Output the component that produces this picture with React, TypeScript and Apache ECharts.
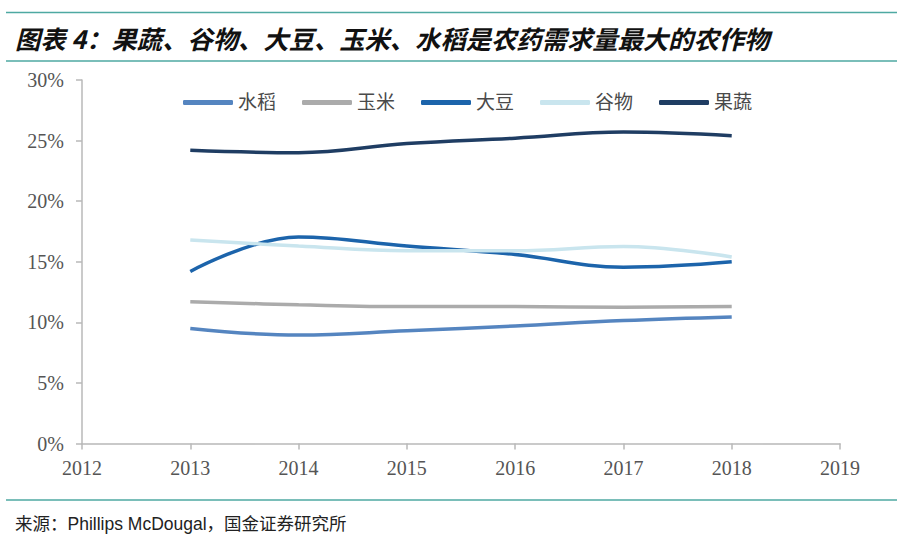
import React, { useEffect, useRef } from "react";
import * as echarts from "echarts";

const years = [2013, 2014, 2015, 2016, 2017, 2018];
const seriesNames = ["水稻", "玉米", "大豆", "谷物", "果蔬"];
const rice = [9.5, 8.95, 9.3, 9.7, 10.15, 10.45];
const corn = [11.7, 11.45, 11.3, 11.3, 11.25, 11.3];
const soybean = [14.2, 17.05, 16.3, 15.6, 14.55, 15.0];
const cereal = [16.8, 16.3, 15.9, 15.9, 16.25, 15.4];
const fruitVeg = [24.2, 24.0, 24.75, 25.2, 25.7, 25.4];
const colors = ["#5585c0", "#ababab", "#1c64ab", "#c9e5ee", "#1f3d63"];
const yTicks = [0, 5, 10, 15, 20, 25, 30];
const xTicks = [2012, 2013, 2014, 2015, 2016, 2017, 2018, 2019];

const titleText = "图表 4：果蔬、谷物、大豆、玉米、水稻是农药需求量最大的农作物";
const sourceText = "来源：Phillips McDougal，国金证券研究所";

export default function App() {
  const ref = useRef<HTMLDivElement>(null);
  useEffect(() => {
    if (!ref.current) return;
    const chart = echarts.init(ref.current, null, { renderer: "svg" });
    const data = [rice, corn, soybean, cereal, fruitVeg];
    const serif = "'Liberation Serif', 'Times New Roman', 'Noto Sans CJK SC', serif";
    chart.setOption({
      animation: false,
      backgroundColor: "#ffffff",
      title: [
        {
          text: titleText,
          left: 10,
          top: 20,
          textStyle: {
            fontFamily: "'Noto Sans CJK SC', sans-serif",
            fontSize: 25.3,
            fontWeight: "bold",
            fontStyle: "italic",
            color: "#111111",
          },
        },
        {
          text: sourceText,
          left: 10,
          top: 510,
          textStyle: {
            fontFamily: "'Liberation Sans', Arial, 'Noto Sans CJK SC', sans-serif",
            fontSize: 17.5,
            fontWeight: "normal",
            color: "#222222",
          },
        },
      ],
      graphic: [
        { type: "line", shape: { x1: 6, y1: 12.5, x2: 897, y2: 12.5 }, style: { stroke: "#4ea9a2", lineWidth: 1.5 } },
        { type: "line", shape: { x1: 6, y1: 61, x2: 897, y2: 61 }, style: { stroke: "#4ea9a2", lineWidth: 1.5 } },
        { type: "line", shape: { x1: 6, y1: 500, x2: 897, y2: 500 }, style: { stroke: "#4ea9a2", lineWidth: 1.5 } },
      ],
      legend: {
        data: seriesNames,
        top: 88,
        left: 178,
        itemWidth: 50,
        itemHeight: 5,
        itemGap: 26,
        icon: "roundRect",
        textStyle: { fontFamily: serif, fontSize: 19, color: "#4a4a4a" },
      },
      grid: { left: 82, right: 57, top: 80, bottom: 96.5, containLabel: false },
      xAxis: {
        type: "value",
        min: xTicks[0],
        max: xTicks[xTicks.length - 1],
        interval: 1,
        splitLine: { show: false },
        axisLine: { show: true, lineStyle: { color: "#b8b8b8", width: 1.5 } },
        axisTick: { show: true, length: 6, lineStyle: { color: "#b8b8b8", width: 1.5 } },
        axisLabel: {
          fontFamily: serif,
          fontSize: 20,
          color: "#555555",
          margin: 14,
          formatter: (v: number) => String(v),
        },
      },
      yAxis: {
        type: "value",
        min: yTicks[0],
        max: yTicks[yTicks.length - 1],
        interval: 5,
        splitLine: { show: false },
        axisLine: { show: true, lineStyle: { color: "#b8b8b8", width: 1.5 } },
        axisTick: { show: true, length: 6, lineStyle: { color: "#b8b8b8", width: 1.5 } },
        axisLabel: { fontFamily: serif, fontSize: 20, color: "#555555", margin: 18, formatter: "{value}%" },
      },
      series: seriesNames.map((name, i) => ({
        name,
        type: "line",
        smooth: 0.4,
        showSymbol: false,
        symbol: "none",
        data: years.map((y, j) => [y, data[i][j]]),
        lineStyle: { color: colors[i], width: 3.5 },
        itemStyle: { color: colors[i] },
        z: 2 + i,
      })),
    });
    return () => chart.dispose();
  }, []);
  return <div ref={ref} style={{ width: 897, height: 540, position: "absolute", left: 0, top: 0 }} />;
}
